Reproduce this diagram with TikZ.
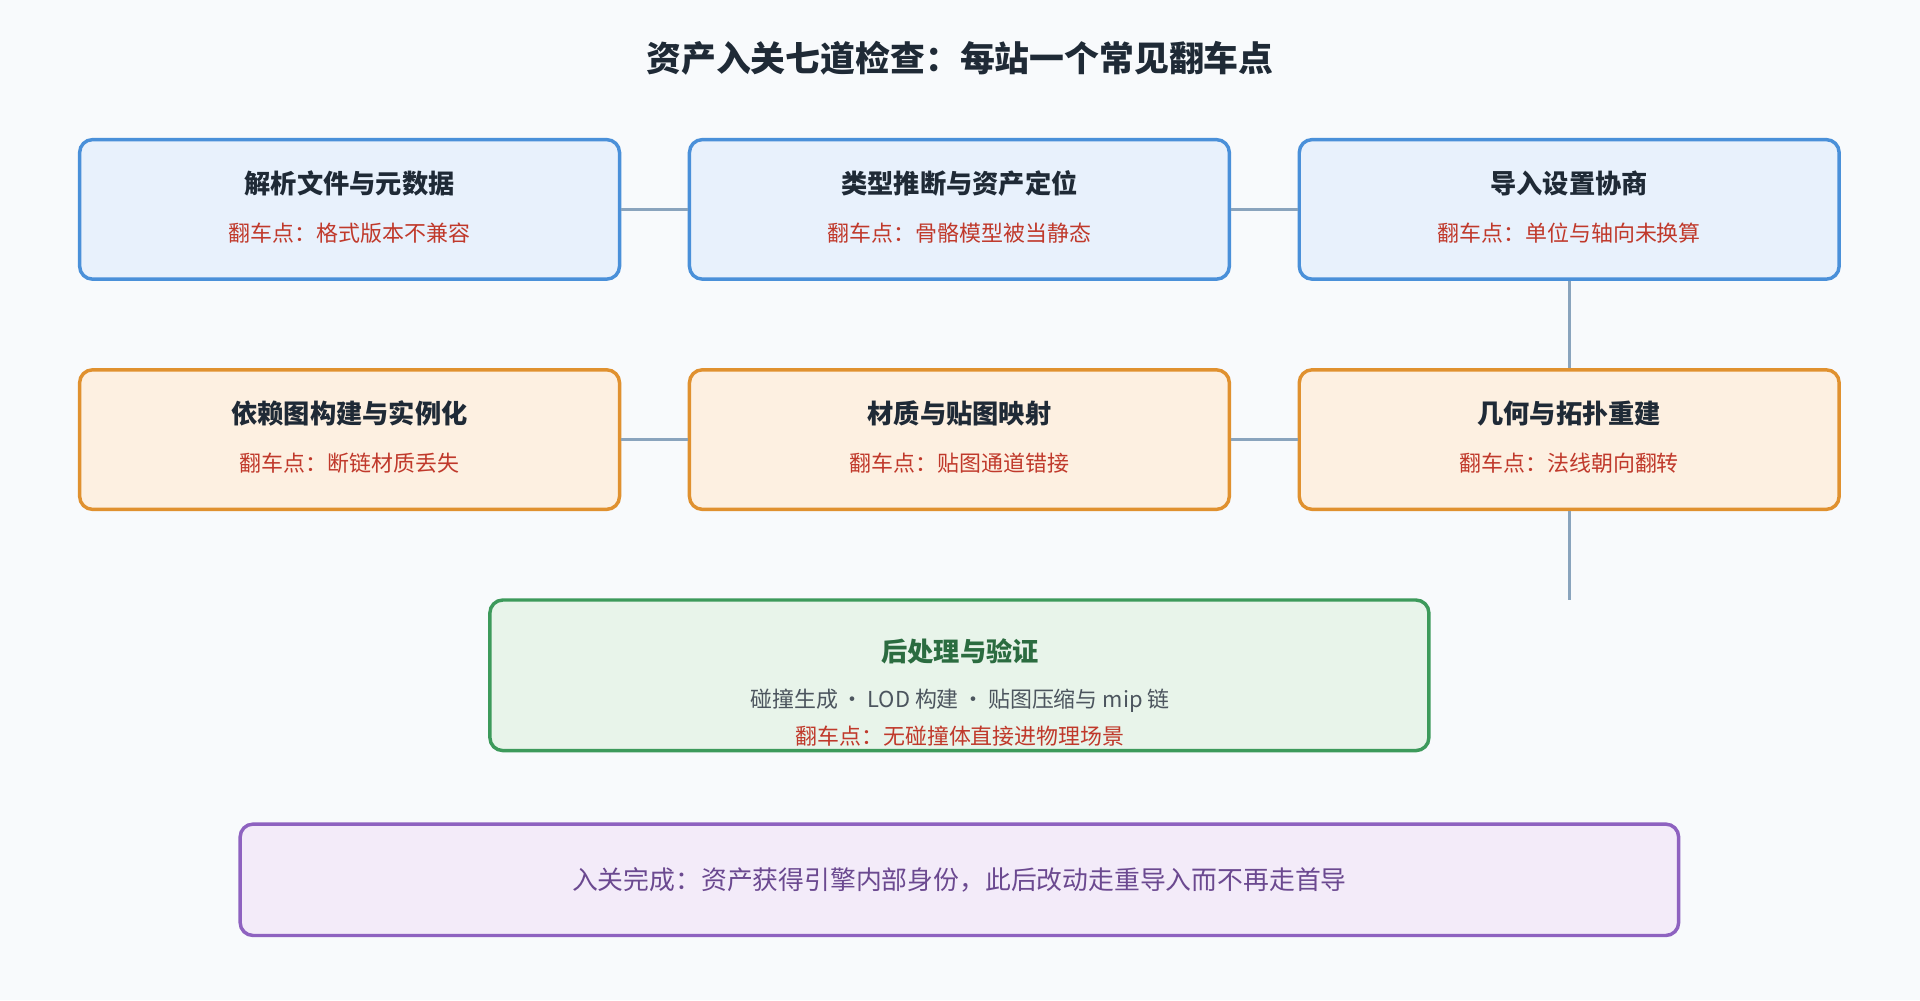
\documentclass[tikz,border=0pt]{standalone}
\usepackage{fontspec}
\newfontfamily\cjk{Noto Sans CJK SC}
\usetikzlibrary{positioning}
\definecolor{bgc}{HTML}{F8FAFC}
\definecolor{blueb}{HTML}{4A90D9}
\definecolor{bluef}{HTML}{E8F1FC}
\definecolor{orab}{HTML}{E0912F}
\definecolor{oraf}{HTML}{FDF0E1}
\definecolor{greb}{HTML}{3D9A5B}
\definecolor{gref}{HTML}{E8F4EA}
\definecolor{purb}{HTML}{8E62C0}
\definecolor{purf}{HTML}{F3EBF9}
\definecolor{redt}{HTML}{C0392B}
\definecolor{linec}{HTML}{8AA4BD}
\definecolor{darkt}{HTML}{1F2A36}
\begin{document}
\begin{tikzpicture}[
  x=0.02cm, y=-0.02cm, font=\cjk,
  box/.style = {draw, line width=1.6pt, rounded corners=6pt, minimum width=8.82cm, minimum height=2.28cm},
  blue box/.style = {box, draw=blueb, fill=bluef},
  orange box/.style = {box, draw=orab, fill=oraf},
  head/.style = {font=\cjk\bfseries\fontsize{12.2}{14}\selectfont, text=darkt},
  trap/.style = {font=\cjk\fontsize{10.2}{12}\selectfont, text=redt},
  link/.style = {draw=linec, line width=1.5pt}
  ]
  \fill[bgc] (0,0) rectangle (1568,817);
  \node[font=\cjk\bfseries\fontsize{16.2}{18}\selectfont, text=darkt] (title) at (784,48) {资产入关七道检查：每站一个常见翻车点};

  % first row
  \node[blue box] (parse) at (285.5,171) {};
  \node[blue box] (type) at (783.5,171) {};
  \node[blue box] (setup) at (1281.5,171) {};
  % second row
  \node[orange box] (deps) at (285.5,359) {};
  \node[orange box] (mat) at (783.5,359) {};
  \node[orange box] (geo) at (1281.5,359) {};

  \foreach \n/\h/\t in {parse/解析文件与元数据/格式版本不兼容,
                        type/类型推断与资产定位/骨骼模型被当静态,
                        setup/导入设置协商/单位与轴向未换算,
                        deps/依赖图构建与实例化/断链材质丢失,
                        mat/材质与贴图映射/贴图通道错接,
                        geo/几何与拓扑重建/法线朝向翻转} {
    \node[head] at ([yshift=0.43cm]\n.center) {\h};
    \node[trap] at ([yshift=-0.38cm]\n.center) {翻车点：\t};
  }

  \node[box, draw=greb, fill=gref, minimum width=15.34cm, minimum height=2.46cm] (post) at (783.5,551.5) {};
  \node[font=\cjk\bfseries\fontsize{12.2}{14}\selectfont, text=greb!70!black] at (784,532) {后处理与验证};
  \node[font=\cjk\fontsize{10.2}{12}\selectfont, text=darkt!80] at (784,572) {碰撞生成\,·\,LOD 构建\,·\,贴图压缩与 mip 链};
  \node[trap] at (784,601) {翻车点：无碰撞体直接进物理场景};

  \node[box, draw=purb, fill=purf, minimum width=23.5cm, minimum height=1.82cm] (done) at (783.5,718.5)
    {\fontsize{12}{14}\selectfont\color{purb!75!black}入关完成：资产获得引擎内部身份，此后改动走重导入而不再走首导};

  \coordinate (drop) at (1281.5,490);
  \draw[link] (parse) -- (type);
  \draw[link] (type) -- (setup);
  \draw[link] (setup) -- (geo);
  \draw[link] (deps) -- (mat);
  \draw[link] (mat) -- (geo);
  \draw[link] (geo) -- (drop);
\end{tikzpicture}
\end{document}
